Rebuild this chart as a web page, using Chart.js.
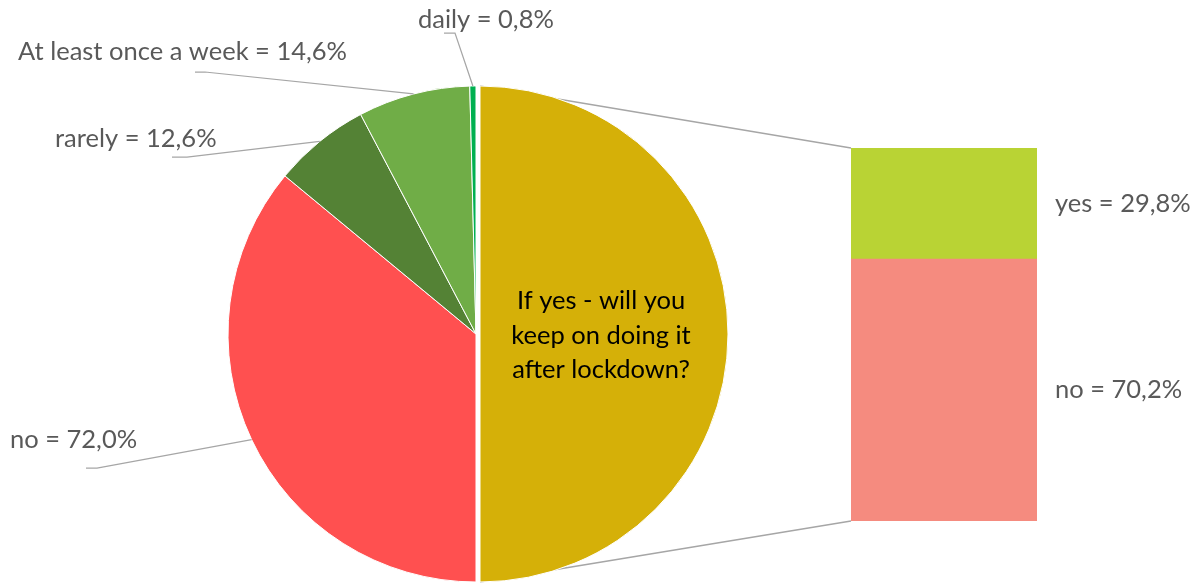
<!DOCTYPE html>
<html>
<head>
<meta charset="utf-8">
<script src="https://cdn.jsdelivr.net/npm/chart.js@4"></script>
<style>
body { margin: 0; background: #fff; }
#wrap { position: relative; width: 1191px; height: 583px; }
#wrap canvas { position: absolute; left: 0; top: 0; }
</style>
</head>
<body>
<div id="wrap">
<canvas id="bar-graph" width="1191" height="583"></canvas>
<canvas id="pie-graph" width="1191" height="583"></canvas>
</div>
<script>
// how often -- left half of the pie
const pieCategories = ['no', 'rarely', 'At least once a week', 'daily'];
const pieValues = [72.0, 12.6, 14.6, 0.8];
const pieColors = ['#ff5050', '#548235', '#70ad47', '#00b050'];

// the "yes" half, split out into the bar
const barCategories = ['no', 'yes'];
const barValues = [70.2, 29.8];
const barColors = ['#f58b7f', '#b9d334'];
const splitTitle = ['If yes - will you', 'keep on doing it', 'after lockdown?'];
const splitColor = '#d5b008';

// where the pie labels sit (text left / middle, leader elbow and end)
const labelSpots = [
    {x: 10, y: 440, elbow: [97, 468], end: [86, 468]},
    {x: 55, y: 139, elbow: [187, 157], end: [172, 157]},
    {x: 18, y: 52, elbow: [205, 72], end: [195, 72]},
    {x: 418, y: 20, elbow: [455, 33], end: [444, 33]}
];

const FONT = '25.5px Lato, "Open Sans", sans-serif';
const GREY_TEXT = '#595959';
const GREY_LINE = '#a6a6a6';

function pct(v) {
    return v.toFixed(1).replace('.', ',') + '%';
}

const barLabels = {
    id: 'barLabels',
    afterDatasetsDraw(chart) {
        const ctx = chart.ctx;
        ctx.save();
        ctx.font = FONT;
        ctx.fillStyle = GREY_TEXT;
        ctx.textBaseline = 'middle';
        for (let i = 0; i < barCategories.length; i++) {
            const bar = chart.getDatasetMeta(i).data[0];
            const midY = (bar.y + bar.base) / 2;
            ctx.fillText(barCategories[i] + ' = ' + pct(barValues[i]), bar.x + bar.width / 2 + 18, midY);
        }
        ctx.restore();
    }
};

const barChart = new Chart(document.getElementById('bar-graph'), {
    type: 'bar',
    data: {
        labels: ['after lockdown'],
        datasets: barCategories.map(function(c, i) {
            return {
                label: c,
                data: [barValues[i]],
                backgroundColor: barColors[i],
                barPercentage: 1,
                categoryPercentage: 1
            };
        })
    },
    options: {
        responsive: false,
        animation: false,
        layout: {padding: {left: 851, right: 154, top: 148, bottom: 62}},
        scales: {
            x: {stacked: true, display: false},
            y: {stacked: true, display: false, min: 0, max: 100}
        },
        plugins: {legend: {display: false}, tooltip: {enabled: false}}
    },
    plugins: [barLabels]
});

const splitTotal = barValues.reduce(function(a, b) { return a + b; }, 0);

const pieExtras = {
    id: 'pieExtras',
    afterDatasetsUpdate(chart) {
        // pull the split slice out a little to the right
        chart.getDatasetMeta(0).data[0].x += 4;
    },
    beforeDatasetsDraw(chart) {
        const ctx = chart.ctx;
        const arc = chart.getDatasetMeta(0).data[0];
        const yes = barChart.getDatasetMeta(1).data[0];
        const no = barChart.getDatasetMeta(0).data[0];
        ctx.save();
        ctx.strokeStyle = GREY_LINE;
        ctx.lineWidth = 1.5;
        ctx.beginPath();
        ctx.moveTo(arc.x, arc.y - arc.outerRadius);
        ctx.lineTo(yes.x - yes.width / 2, yes.y);
        ctx.moveTo(arc.x, arc.y + arc.outerRadius);
        ctx.lineTo(no.x - no.width / 2, no.base);
        ctx.stroke();
        ctx.restore();
    },
    afterDatasetsDraw(chart) {
        const ctx = chart.ctx;
        const arcs = chart.getDatasetMeta(0).data;
        ctx.save();
        ctx.font = FONT;
        ctx.textBaseline = 'middle';

        // title inside the split slice
        const a0 = arcs[0];
        ctx.fillStyle = '#000';
        ctx.textAlign = 'center';
        for (let k = 0; k < splitTitle.length; k++) {
            ctx.fillText(splitTitle[k], a0.x + a0.outerRadius * 0.488, a0.y - 33 + k * 34.5);
        }

        ctx.textAlign = 'left';
        ctx.strokeStyle = GREY_LINE;
        ctx.lineWidth = 1.25;
        for (let i = 0; i < pieCategories.length; i++) {
            const a = arcs[i + 1];
            const mid = (a.startAngle + a.endAngle) / 2;
            const ex = a.x + Math.cos(mid) * a.outerRadius;
            const ey = a.y + Math.sin(mid) * a.outerRadius;
            const spot = labelSpots[i];
            ctx.beginPath();
            ctx.moveTo(ex, ey);
            ctx.lineTo(spot.elbow[0], spot.elbow[1]);
            ctx.lineTo(spot.end[0], spot.end[1]);
            ctx.stroke();
            ctx.fillStyle = GREY_TEXT;
            ctx.fillText(pieCategories[i] + ' = ' + pct(pieValues[i]), spot.x, spot.y);
        }
        ctx.restore();
    }
};

const pieChart = new Chart(document.getElementById('pie-graph'), {
    type: 'pie',
    data: {
        labels: ['split'].concat(pieCategories),
        datasets: [{
            data: [splitTotal].concat(pieValues),
            backgroundColor: [splitColor].concat(pieColors),
            borderColor: '#fff',
            borderWidth: 1
        }]
    },
    options: {
        responsive: false,
        animation: false,
        radius: 248,
        layout: {padding: {left: 228, right: 467, top: 85, bottom: 0}},
        plugins: {legend: {display: false}, tooltip: {enabled: false}}
    },
    plugins: [pieExtras]
});
</script>
</body>
</html>
